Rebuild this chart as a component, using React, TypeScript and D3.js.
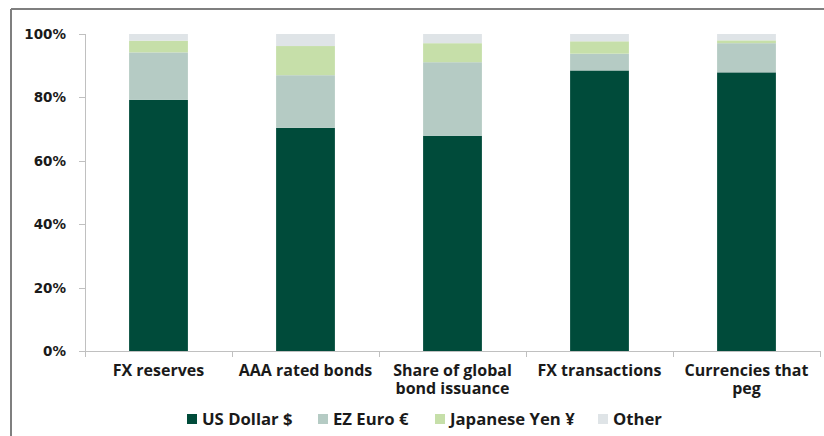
import React from "react";
import * as d3 from "d3";

const categories = [
  "FX reserves",
  "AAA rated bonds",
  "Share of global\nbond issuance",
  "FX transactions",
  "Currencies that\npeg",
];
const seriesNames = ["US Dollar $", "EZ Euro €", "Japanese Yen ¥", "Other"];
const usDollar = [79.2, 70.4, 67.9, 88.5, 87.9];
const ezEuro = [15.0, 16.6, 23.2, 5.3, 9.2];
const japaneseYen = [3.7, 9.2, 6.0, 3.9, 0.9];
const other = [2.1, 3.8, 2.9, 2.3, 2.0];
const yTicks = [0, 20, 40, 60, 80, 100];
const colors = ["#004b3a", "#b5cbc4", "#c6dfa9", "#dfe4e7"];

const W = 824;
const H = 436;
const left = 85;
const right = 820;
const top = 34;
const bottom = 351;

export default function App() {
  const keys = ["usd", "eur", "jpy", "oth"];
  const rows = categories.map((c, i) => ({
    cat: c,
    usd: usDollar[i],
    eur: ezEuro[i],
    jpy: japaneseYen[i],
    oth: other[i],
  }));
  const stack = d3.stack<any>().keys(keys)(rows);
  const x = d3
    .scaleBand<string>()
    .domain(categories)
    .range([left, right])
    .paddingInner(0.6)
    .paddingOuter(0.3);
  const y = d3.scaleLinear().domain([0, 100]).range([bottom, top]);
  const step = x.step();
  const boundaries = d3.range(categories.length + 1).map((i) => left + i * step);
  const axisColor = "#c0c0c0";
  const legendX = [187, 318, 435, 598];
  const labelFont = "'Open Sans', Lato, sans-serif";

  return (
    <div style={{ position: "absolute", left: 0, top: 0, width: W, height: H }}>
      <svg width={W} height={H} style={{ display: "block", background: "#fff" }}>
        {/* frame */}
        <line x1={11} y1={9} x2={W} y2={9} stroke="#7f7f7f" strokeWidth={2} />
        <line x1={11} y1={9} x2={11} y2={H} stroke="#7f7f7f" strokeWidth={2} />

        {/* bars */}
        {stack.map((s, si) => (
          <g key={si} fill={colors[si]}>
            {s.map((d, i) => (
              <rect
                key={i}
                x={x(categories[i])}
                y={y(d[1])}
                width={x.bandwidth()}
                height={y(d[0]) - y(d[1])}
              />
            ))}
          </g>
        ))}

        {/* y axis */}
        <line x1={left + 0.5} y1={top} x2={left + 0.5} y2={bottom} stroke={axisColor} />
        {yTicks.map((t) => (
          <g key={t}>
            <line x1={79} x2={left} y1={Math.round(y(t)) + 0.5} y2={Math.round(y(t)) + 0.5} stroke={axisColor} />
            <text
              x={66}
              y={y(t) + 5}
              textAnchor="end"
              fontFamily="DejaVu Sans, Verdana, sans-serif"
              fontWeight="bold"
              fontSize={13.5}
              fill="#1a1a1a"
            >
              {t}%
            </text>
          </g>
        ))}

        {/* x axis */}
        <line x1={79} x2={right} y1={bottom + 0.5} y2={bottom + 0.5} stroke={axisColor} />
        {boundaries.map((b, i) => (
          <line key={i} x1={Math.round(b) + 0.5} x2={Math.round(b) + 0.5} y1={bottom} y2={bottom + 6} stroke={axisColor} />
        ))}
        {categories.map((c) => {
          const cx = (x(c) as number) + x.bandwidth() / 2;
          return (
            <text
              key={c}
              textAnchor="middle"
              fontFamily={labelFont}
              fontWeight="bold"
              fontSize={16}
              fill="#1a1a1a"
            >
              {c.split("\n").map((ln, li) => (
                <tspan key={li} x={cx} y={376 + li * 18}>
                  {ln}
                </tspan>
              ))}
            </text>
          );
        })}

        {/* legend */}
        {seriesNames.map((n, i) => (
          <g key={n}>
            <rect x={legendX[i]} y={414} width={10} height={10} fill={colors[i]} />
            <text
              x={legendX[i] + 15}
              y={425}
              fontFamily={labelFont}
              fontWeight="bold"
              fontSize={16.7}
              fill="#1a1a1a"
            >
              {n}
            </text>
          </g>
        ))}
      </svg>
    </div>
  );
}
